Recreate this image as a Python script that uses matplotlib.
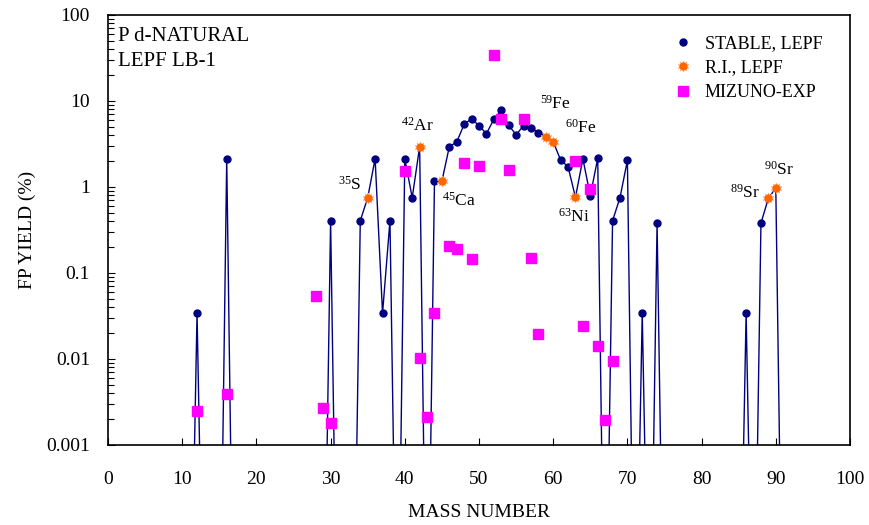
import matplotlib
matplotlib.use("Agg")
import matplotlib.pyplot as plt
from matplotlib.lines import Line2D
from matplotlib.ticker import LogLocator, FixedLocator, NullFormatter, FixedFormatter
import numpy as np

plt.rcParams["font.family"] = ["Liberation Serif", "DejaVu Serif"]

# Stable nuclide yields (LEPF calculation), %
stable_mass = [12, 16, 30, 34, 36, 37, 38, 40, 41, 44, 46, 47, 48, 49, 50, 51, 52,
               53, 54, 55, 56, 57, 58, 61, 62, 64, 65, 66, 68, 69, 70, 72, 74, 86, 88]
stable_yield = [0.034, 2.13, 0.406, 0.406, 2.13, 0.034, 0.406, 2.13, 0.75, 1.17,
                2.94, 3.34, 5.36, 6.22, 5.16, 4.17, 6.12, 7.80, 5.20, 4.06, 5.16,
                4.90, 4.28, 2.06, 1.72, 2.13, 0.79, 2.16, 0.406, 0.75, 2.04,
                0.034, 0.38, 0.034, 0.38]

# Radioactive nuclide yields (LEPF calculation), %
ri_mass = [35, 42, 45, 59, 60, 63, 89, 90]
ri_yield = [0.75, 2.94, 1.17, 3.85, 3.36, 0.76, 0.74, 0.97]
ri_label = ["35|S", "42|Ar", "45|Ca", "59|Fe", "60|Fe", "63|Ni", "89|Sr", "90|Sr"]

# Masses with zero calculated yield (line drops off the log scale there)
zero_mass = [11, 13, 15, 17, 29, 31, 33, 39, 43, 67, 71, 73, 75, 85, 87, 91]

# Mizuno experimental yields, %
exp_mass = [12, 16, 28, 29, 30, 40, 42, 43, 44, 46, 47, 48, 49, 50, 52, 53, 54,
            56, 57, 58, 63, 64, 65, 66, 67, 68]
exp_yield = [0.0025, 0.0039, 0.054, 0.0027, 0.0018, 1.53, 0.0102, 0.0021, 0.034,
             0.204, 0.189, 1.90, 0.144, 1.74, 34.6, 6.18, 1.56, 6.18, 0.151,
             0.0194, 2.02, 0.0244, 0.94, 0.0141, 0.00197, 0.0094]

# label offsets (points) of the isotope tags
ri_offset = [(-13, 9), (-1.5, 15), (12.5, -14), (7, 24), (20, 10), (-1, -14),
             (-17, 4), (2, 13)]

y_ticks = [0.001, 0.01, 0.1, 1, 10, 100]
y_ticklabels = ["0.001", "0.01", "0.1", "1", "10", "100"]
x_ticks = list(range(0, 101, 10))

FLOOR = 1e-6

# connected calculated curve: stable + RI + zero points, sorted by mass
pts = {m: v for m, v in zip(stable_mass, stable_yield)}
pts.update({m: v for m, v in zip(ri_mass, ri_yield)})
pts.update({m: 0.0 for m in zero_mass})
line_mass = sorted(pts)
line_yield = [pts[m] if pts[m] > 0 else FLOOR for m in line_mass]

fig = plt.figure(figsize=(8.69, 5.25), dpi=100)
ax = fig.add_axes([108 / 869, 1 - 445 / 525, 742 / 869, 430 / 525])

navy = "#000080"
halo = "#FFB07A"
orange = "#FF6600"
ax.plot(line_mass, line_yield, color=navy, lw=1.0, zorder=2)
ax.plot(stable_mass, stable_yield, ls="none", marker="o", ms=5, color=navy,
        mec=navy, zorder=3)
ax.plot(ri_mass, ri_yield, ls="none", marker=(10, 2, 0), ms=8, mew=0.6,
        color=halo, zorder=4)
ax.plot(ri_mass, ri_yield, ls="none", marker="o", ms=5, color=orange,
        mec=orange, zorder=5)
ax.plot(exp_mass, exp_yield, ls="none", marker="s", ms=6.5, color="#FF00FF",
        mec="#FF00FF", zorder=6)

for m, v, lab, off in zip(ri_mass, ri_yield, ri_label, ri_offset):
    a, el = lab.split("|")
    ax.annotate(r"$\mathregular{^{%s}}$%s" % (a, el), (m, v), xytext=off,
                textcoords="offset points", ha="center", va="center",
                fontsize=12.5, zorder=7)

ax.set_yscale("log")
ax.set_xlim(0, 100)
ax.set_ylim(0.001, 100)

ax.yaxis.set_major_locator(FixedLocator(y_ticks))
ax.yaxis.set_major_formatter(FixedFormatter(y_ticklabels))
ax.yaxis.set_minor_locator(LogLocator(base=10, subs=np.arange(2, 10), numticks=20))
ax.yaxis.set_minor_formatter(NullFormatter())
ax.xaxis.set_major_locator(FixedLocator(x_ticks))

ax.tick_params(axis="y", which="major", direction="in", length=5, width=0.8,
               labelsize=14, pad=13)
ax.tick_params(axis="y", which="minor", direction="in", length=4, width=0.8)
ax.tick_params(axis="x", which="major", direction="in", length=5, width=0.8,
               labelsize=14, pad=19)
for s in ax.spines.values():
    s.set_linewidth(1.2)

ax.set_xlabel("MASS NUMBER", fontsize=14, labelpad=11)
ax.set_ylabel("FP YIELD (%)", fontsize=14, labelpad=7)

ax.text(0.0135, 0.972, "P d-NATURAL", transform=ax.transAxes, fontsize=15,
        ha="left", va="top")
ax.text(0.0135, 0.913, "LEPF LB-1", transform=ax.transAxes, fontsize=15,
        ha="left", va="top")

h_stable = Line2D([], [], ls="none", marker="o", ms=5, color=navy)
h_ri = (Line2D([], [], ls="none", marker=(10, 2, 0), ms=8, mew=0.6, color=halo),
        Line2D([], [], ls="none", marker="o", ms=5, color=orange))
h_exp = Line2D([], [], ls="none", marker="s", ms=6.5, color="#FF00FF")
ax.legend([h_stable, h_ri, h_exp], ["STABLE, LEPF", "R.I., LEPF", "MIZUNO-EXP"],
          loc="upper left", bbox_to_anchor=((674 - 108) / 742, (445 - 35) / 430),
          frameon=False, fontsize=13, handlelength=1.0, handletextpad=0.7,
          labelspacing=0.42, borderpad=0, borderaxespad=0)

fig.savefig("out.png", dpi=100)
